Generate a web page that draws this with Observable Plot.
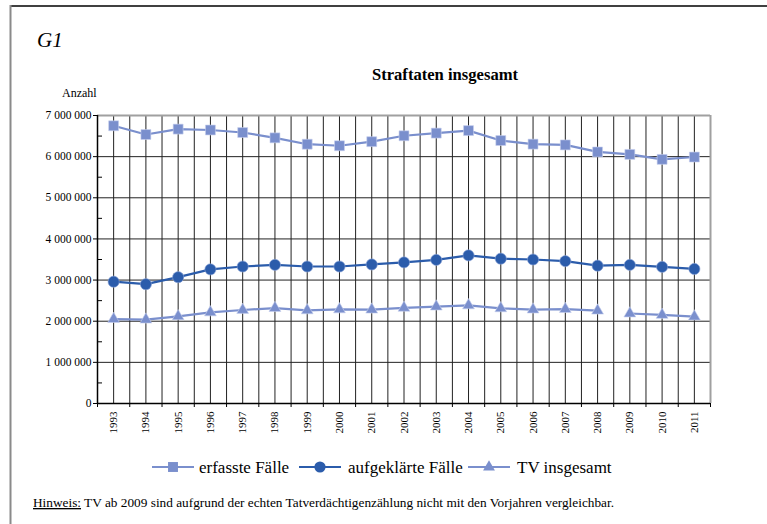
<!DOCTYPE html>
<html>
<head>
<meta charset="utf-8">
<script src="https://cdn.jsdelivr.net/npm/d3@7"></script>
<script src="https://cdn.jsdelivr.net/npm/@observablehq/plot@0.6"></script>
<style>
  html, body { margin: 0; padding: 0; background: #fff; }
  body { width: 767px; height: 524px; position: relative; overflow: hidden;
         font-family: "Liberation Serif", "Times New Roman", serif; color: #000; }
  #chart { position: absolute; left: 0; top: 0; }
  #chart svg text { font-family: "Liberation Serif", "Times New Roman", serif; }
  #overlay { position: absolute; left: 0; top: 0; pointer-events: none; }
  #overlay text { font-family: "Liberation Serif", "Times New Roman", serif; fill: #000; }
</style>
</head>
<body>
<div id="chart"></div>
<svg id="overlay" width="767" height="524" xmlns="http://www.w3.org/2000/svg"></svg>
<script>
// ---- data ----
const years = [1993,1994,1995,1996,1997,1998,1999,2000,2001,2002,2003,2004,2005,2006,2007,2008,2009,2010,2011];
const erfassteFaelle = [6750613,6537748,6668717,6647598,6586165,6456996,6302316,6264723,6363865,6507394,6572135,6633156,6391715,6304223,6284661,6114128,6054330,5933278,5990679];
const aufgeklaerteFaelle = [2960000,2900000,3070000,3260000,3330000,3370000,3330000,3330000,3380000,3430000,3490000,3600000,3520000,3500000,3460000,3350000,3370000,3320000,3270000];
const tvInsgesamt = [2051775,2037729,2118104,2213293,2273164,2319895,2263140,2286372,2280611,2326149,2355161,2384268,2313136,2283127,2294883,2255693,2187217,2152803,2112843];
const seriesNames = ["erfasste Fälle", "aufgeklärte Fälle", "TV insgesamt"];
const seriesColors = ["#7a8fcd", "#2b5cab", "#7a8fcd"];
const seriesSymbols = ["square", "circle", "triangle"];
const yTicks = [0,1000000,2000000,3000000,4000000,5000000,6000000,7000000];
const yMinorTicks = [500000,1500000,2500000,3500000,4500000,5500000,6500000];
const tvBreakYear = 2009; // TV ab 2009 nicht vergleichbar (Linie unterbrochen)
const titleText = "Straftaten insgesamt";
const yLabel = "Anzahl";
const noteLead = "Hinweis:";
const noteText = " TV ab 2009 sind aufgrund der echten Tatverdächtigenzählung nicht mit den Vorjahren vergleichbar.";

// ---- table ----
const valuesBySeries = [erfassteFaelle, aufgeklaerteFaelle, tvInsgesamt];
const rows = [];
seriesNames.forEach((s, i) => {
  years.forEach((yr, j) => {
    rows.push({
      year: yr, value: valuesBySeries[i][j], series: s,
      seg: s + (i === 2 && yr >= tvBreakYear ? "|b" : "|a")
    });
  });
});
const boundaries = [years[0] - 0.5, ...years.map(y => y + 0.5)];
const fmt = v => d3.format(",")(v).replace(/,/g, " ");
const colorOf = s => seriesColors[seriesNames.indexOf(s)];
const serif = "Liberation Serif";

const W = 767, H = 524;
const mL = 97, mR = 57, mT = 115, mB = 121;

const chart = Plot.plot({
  width: W, height: H,
  marginLeft: mL, marginRight: mR, marginTop: mT, marginBottom: mB,
  style: { fontFamily: serif, fontSize: "11px", color: "#000", background: "transparent" },
  x: { type: "linear", domain: [boundaries[0], boundaries[boundaries.length - 1]], axis: null },
  y: { domain: [0, 7000000], axis: null },
  color: { domain: seriesNames, range: seriesColors },
  marks: [
    // grid
    Plot.ruleY(yTicks.slice(1, -1), { stroke: "#222", strokeWidth: 1 }),
    Plot.ruleX(years, { stroke: "#222", strokeWidth: 1 }),
    Plot.ruleX(boundaries.slice(1, -1), { stroke: "#222", strokeWidth: 1 }),
    // plot-area frame (top / right)
    Plot.ruleY([7000000], { stroke: "#a0a0a0", strokeWidth: 2 }),
    Plot.ruleX([boundaries[boundaries.length - 1]], { stroke: "#a0a0a0", strokeWidth: 2 }),
    // axes lines
    Plot.ruleX([boundaries[0]], { stroke: "#000", strokeWidth: 1.5 }),
    Plot.ruleY([0], { stroke: "#000", strokeWidth: 1.5 }),
    // y axis
    Plot.axisY(yTicks, { anchor: "left", label: null, tickSize: 4, tickPadding: 2, tickFormat: fmt, fontSize: 11.5, fontFamily: serif }),
    Plot.axisY(yMinorTicks, { anchor: "left", label: null, tickSize: -5, tickFormat: () => "" }),
    // x axis
    Plot.axisX(boundaries, { anchor: "bottom", label: null, tickSize: 4, tickFormat: () => "" }),
    Plot.axisX(years, { anchor: "bottom", label: null, tickSize: 0, tickPadding: 8, tickRotate: -90, tickFormat: d => String(d), fontSize: 11, fontFamily: serif }),
    // lines
    Plot.line(rows, { x: "year", y: "value", z: "seg", stroke: "series", strokeWidth: 2.2 }),
    // markers
    Plot.dot(rows.filter(d => d.series === seriesNames[0]), { x: "year", y: "value", symbol: "square", r: 5.6, fill: colorOf(seriesNames[0]), stroke: "#c8d0ee", strokeWidth: 0.6 }),
    Plot.dot(rows.filter(d => d.series === seriesNames[1]), { x: "year", y: "value", symbol: "circle", r: 5.6, fill: colorOf(seriesNames[1]), stroke: "#8fa6d8", strokeWidth: 0.6 }),
    Plot.dot(rows.filter(d => d.series === seriesNames[2]), { x: "year", y: "value", symbol: "triangle", r: 4.4, fill: colorOf(seriesNames[2]), stroke: "#c8d0ee", strokeWidth: 0.6 })
  ]
});
document.getElementById("chart").appendChild(chart);

// ---- overlay: frame, titles, legend, note ----
const ov = d3.select("#overlay");
ov.append("line").attr("x1", 10).attr("x2", W).attr("y1", 6).attr("y2", 6).attr("stroke", "#000").attr("stroke-width", 1.6);
ov.append("line").attr("x1", 10.5).attr("x2", 10.5).attr("y1", 5).attr("y2", H).attr("stroke", "#8a8a8a").attr("stroke-width", 2);

ov.append("text").attr("x", 37).attr("y", 47).attr("font-size", 21).attr("font-style", "italic").text("G1");
ov.append("text").attr("x", 445).attr("y", 80).attr("font-size", 16.6).attr("font-weight", "bold").attr("text-anchor", "middle").text(titleText);
ov.append("text").attr("x", 62).attr("y", 97).attr("font-size", 12).text(yLabel);

// legend
const legendItems = [
  { x: 152, tx: 199 },
  { x: 299, tx: 348 },
  { x: 468, tx: 517 }
];
const legY = 467;
seriesNames.forEach((s, i) => {
  const g = ov.append("g");
  const lx = legendItems[i].x, c = seriesColors[i];
  g.append("line").attr("x1", lx).attr("x2", lx + 42).attr("y1", legY).attr("y2", legY).attr("stroke", c).attr("stroke-width", 2.2);
  const sym = d3.symbol().type(seriesSymbols[i] === "square" ? d3.symbolSquare : seriesSymbols[i] === "circle" ? d3.symbolCircle : d3.symbolTriangle)
    .size(seriesSymbols[i] === "triangle" ? Math.PI * 4.4 * 4.4 : Math.PI * 5.6 * 5.6);
  g.append("path").attr("d", sym()).attr("transform", `translate(${lx + 21},${legY})`).attr("fill", c);
  g.append("text").attr("x", legendItems[i].tx).attr("y", legY + 6).attr("font-size", 17).text(s);
});

// note
const note = ov.append("text").attr("x", 33).attr("y", 507).attr("font-size", 13.3);
note.append("tspan").attr("text-decoration", "underline").text(noteLead);
note.append("tspan").text(noteText);
</script>
</body>
</html>
